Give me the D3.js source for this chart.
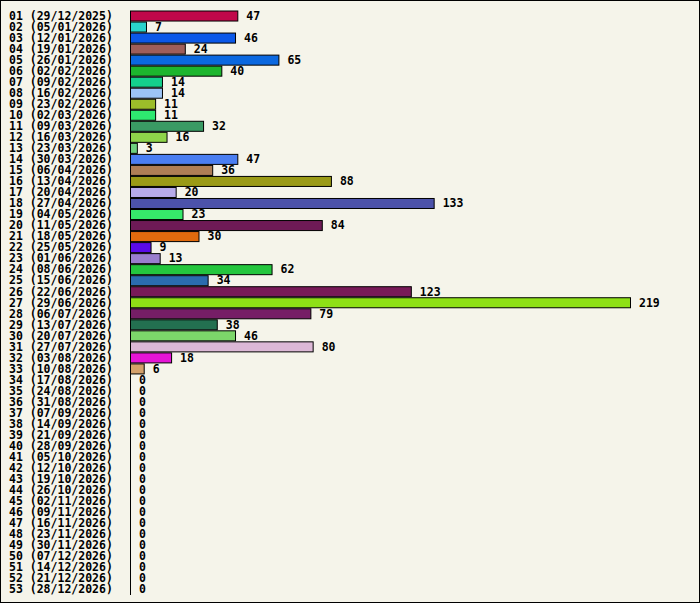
<!DOCTYPE html>
<html><head><meta charset="utf-8">
<script src="https://cdn.jsdelivr.net/npm/d3@7"></script>
<style>body{margin:0;background:#fff}</style>
</head><body><svg id="chart"></svg>
<script>
var weeks = ["29/12/2025","05/01/2026","12/01/2026","19/01/2026","26/01/2026","02/02/2026","09/02/2026","16/02/2026","23/02/2026","02/03/2026","09/03/2026","16/03/2026","23/03/2026","30/03/2026","06/04/2026","13/04/2026","20/04/2026","27/04/2026","04/05/2026","11/05/2026","18/05/2026","25/05/2026","01/06/2026","08/06/2026","15/06/2026","22/06/2026","29/06/2026","06/07/2026","13/07/2026","20/07/2026","27/07/2026","03/08/2026","10/08/2026","17/08/2026","24/08/2026","31/08/2026","07/09/2026","14/09/2026","21/09/2026","28/09/2026","05/10/2026","12/10/2026","19/10/2026","26/10/2026","02/11/2026","09/11/2026","16/11/2026","23/11/2026","30/11/2026","07/12/2026","14/12/2026","21/12/2026","28/12/2026"];
var values = [47,7,46,24,65,40,14,14,11,11,32,16,3,47,36,88,20,133,23,84,30,9,13,62,34,123,219,79,38,46,80,18,6,0,0,0,0,0,0,0,0,0,0,0,0,0,0,0,0,0,0,0,0];
var colors = ["#c0084a","#2ad4cc","#0b58e8","#9e5e5a","#0b68e0","#1db52e","#14d08c","#9cc4f6","#9cbd2a","#2ee870","#3a9a64","#8ed44a","#6ed07e","#4a7ef2","#ae7e56","#9a9a16","#b6aaea","#4c52aa","#36e86a","#6e1a56","#e06a0e","#5a0ae8","#9a7ece","#24c63e","#2a6cae","#781a58","#8ee016","#761e66","#237050","#7cd66a","#dcb8d6","#e614d6","#d4a06a"];

var W = 700, H = 603;
var svg = d3.select("#chart").attr("width", W).attr("height", H);
svg.append("rect").attr("x",0.5).attr("y",0.5).attr("width",W-1).attr("height",H-1)
  .attr("fill","#f5f4ea").attr("stroke","#000");

var x = d3.scaleLinear().domain([0,219]).range([130,630]);
var y = d3.scaleBand().domain(d3.range(weeks.length)).range([10.5,595]);
var font = "bold 11.5px 'DejaVu Sans Mono', monospace";

svg.append("line").attr("x1",130.5).attr("x2",130.5).attr("y1",11).attr("y2",595).attr("stroke","#000");

values.forEach(function(v,i){
  if (v>0) {
    svg.append("rect").attr("x",130.5).attr("y",y(i)+0.5)
      .attr("width",x(v)-x(0)).attr("height",y.bandwidth()-1)
      .attr("fill",colors[i]).attr("stroke","#000");
  }
  svg.append("text").attr("x",x(v)+9).attr("y",y(i)+y.bandwidth()/2).attr("dy","0.33em")
    .style("font",font).text(v);
  svg.append("text").attr("x",9).attr("y",y(i)+y.bandwidth()/2).attr("dy","0.33em")
    .style("font",font)
    .text(d3.format("02")(i+1)+" ("+weeks[i]+")");
});
</script></body></html>
